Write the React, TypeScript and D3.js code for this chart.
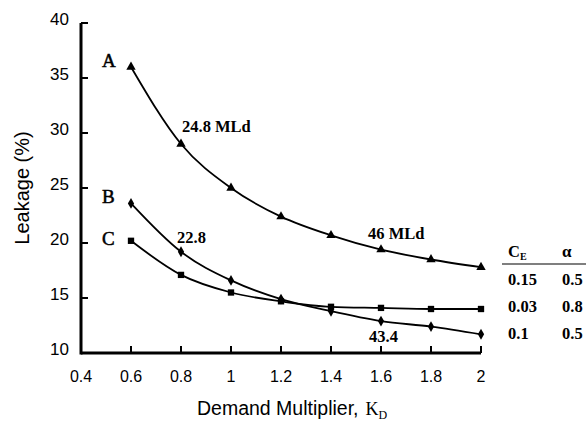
import React from 'react';
import * as d3 from 'd3';

// demand multiplier values
const kd = [0.6, 0.8, 1.0, 1.2, 1.4, 1.6, 1.8, 2.0];
// leakage (%) per curve
const seriesA = [36, 29, 25, 22.4, 20.7, 19.4, 18.5, 17.8];
const seriesB = [23.6, 19.2, 16.6, 14.9, 13.8, 12.9, 12.4, 11.7];
const seriesC = [20.2, 17.1, 15.5, 14.7, 14.2, 14.1, 14.0, 14.0];
const xTicks = [0.4, 0.6, 0.8, 1, 1.2, 1.4, 1.6, 1.8, 2];
const yTicks = [10, 15, 20, 25, 30, 35, 40];
const tableCE = ['0.15', '0.03', '0.1'];
const tableAlpha = ['0.5', '0.8', '0.5'];

const W = 586, H = 427;
const sans = '"Liberation Sans", Arial, sans-serif';
const serif = '"Liberation Serif", "Times New Roman", serif';

const App = () => {
  const x = d3.scaleLinear().domain([0.4, 2]).range([81, 481]);
  const y = d3.scaleLinear().domain([10, 40]).range([353, 23]);

  const line = d3.line<number>()
    .x((d, i) => x(kd[i]))
    .y(d => y(d))
    .curve(d3.curveMonotoneX);

  const tri = d3.symbol().type(d3.symbolTriangle).size(38)();
  const dia = d3.symbol().type(d3.symbolDiamond).size(34)();
  const sq = d3.symbol().type(d3.symbolSquare).size(40)();

  const series = [
    {vals: seriesA, mark: tri},
    {vals: seriesB, mark: dia},
    {vals: seriesC, mark: sq},
  ];

  return (
    <svg width={W} height={H} style={{position: 'absolute', left: 0, top: 0, background: '#fff'}}>
      {/* axes */}
      <line x1={x(0.4)} x2={x(2)} y1={y(10)} y2={y(10)} stroke="#000" strokeWidth={3} />
      <line x1={x(0.4)} x2={x(0.4)} y1={y(10) + 1.5} y2={y(40)} stroke="#000" strokeWidth={3} />
      {yTicks.map(t => (
        <g key={'y' + t}>
          <line x1={x(0.4)} x2={x(0.4) + 7} y1={y(t)} y2={y(t)} stroke="#000" strokeWidth={2} />
          <text x={69} y={y(t) - 4} dy="0.35em" textAnchor="end" fontFamily={sans} fontSize={17}>{t}</text>
        </g>
      ))}
      {xTicks.map(t => (
        <g key={'x' + t}>
          {t > 0.4 && <line x1={x(t)} x2={x(t)} y1={y(10)} y2={y(10) - 7} stroke="#000" strokeWidth={2} />}
          <text x={x(t)} y={382} textAnchor="middle" fontFamily={sans} fontSize={16}>{t}</text>
        </g>
      ))}

      {/* curves */}
      {series.map((s, k) => (
        <g key={'s' + k}>
          <path d={line(s.vals) || ''} fill="none" stroke="#000" strokeWidth={1.8} />
          {s.vals.map((v, i) => (
            <path key={i} d={s.mark || ''} transform={`translate(${x(kd[i])},${y(v)})`} fill="#000" />
          ))}
        </g>
      ))}

      {/* curve labels */}
      <g fontFamily={serif} fontSize={19} stroke="#000" strokeWidth={0.5}>
        <text x={102} y={67}>A</text>
        <text x={102} y={203}>B</text>
        <text x={102} y={245}>C</text>
      </g>
      <text x={182} y={132} fontFamily={serif} fontSize={16.5} fontWeight="bold">24.8 MLd</text>
      <text x={368} y={239} fontFamily={serif} fontSize={16.5} fontWeight="bold">46 MLd</text>
      <text x={177} y={243} fontFamily={serif} fontSize={16.5} fontWeight="bold">22.8</text>
      <text x={369} y={342} fontFamily={serif} fontSize={16.5} fontWeight="bold">43.4</text>

      {/* parameter table */}
      <text x={508} y={257} fontFamily={serif} fontSize={16.5} fontWeight="bold">C<tspan fontSize={10} dy={3}>E</tspan></text>
      <text x={562} y={257} fontFamily={serif} fontSize={17} fontWeight="bold">α</text>
      <line x1={502} x2={586} y1={264} y2={264} stroke="#000" strokeWidth={1.2} />
      {tableCE.map((c, i) => (
        <g key={'t' + i}>
          <text x={508} y={285 + i * 27} fontFamily={serif} fontSize={16.5} fontWeight="bold">{c}</text>
          <text x={562} y={285 + i * 27} fontFamily={serif} fontSize={16.5} fontWeight="bold">{tableAlpha[i]}</text>
        </g>
      ))}

      {/* axis titles */}
      <text transform="translate(29,188) rotate(-90)" textAnchor="middle" fontFamily={sans} fontSize={20}>Leakage (%)</text>
      <text x={197} y={415} fontFamily={sans} fontSize={19.5}>
        Demand Multiplier,
        <tspan fontFamily={serif} dx={7} fontSize={18}>K</tspan>
        <tspan fontFamily={serif} fontSize={12} dy={4}>D</tspan>
      </text>
    </svg>
  );
};

export default App;
